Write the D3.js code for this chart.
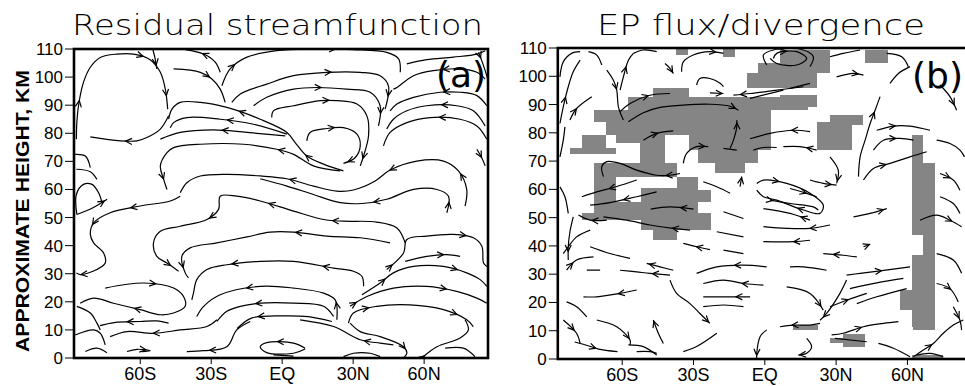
<!DOCTYPE html>
<html>
<head>
<meta charset="utf-8">
<script src="https://cdn.jsdelivr.net/npm/d3@7"></script>
</head>
<body style="margin:0;background:#fff">
<style>
    path.sl { fill: none; stroke: #000; stroke-width: 1.2px; }
    path.arr { fill: none; stroke: #000; stroke-width: 1.2px; }
    rect.frame { fill: none; stroke: #000; stroke-width: 2.6px; }
    rect.cell { fill: #858585; stroke: none; }
    .tick { font-family: "Liberation Sans", Arial, sans-serif; font-size: 17px; }
    .xtick { font-family: "Liberation Sans", Arial, sans-serif; font-size: 18px; }
    .title { font-family: "DejaVu Sans", sans-serif; font-weight: 200; font-size: 29px; }
    .plab { font-family: "DejaVu Sans", sans-serif; font-size: 36px; }
</style>
<script>

    var width = 965, height = 386;

    var yTicks = [0, 10, 20, 30, 40, 50, 60, 70, 80, 90, 100, 110];
    var xTicks = [-60, -30, 0, 30, 60];
    var xTickLabels = ["60S", "30S", "EQ", "30N", "60N"];
    var titles = ["Residual streamfunction", "EP flux/divergence"];
    var panelLabels = ["(a)", "(b)"];

    // (a) streamlines: [arrow positions (fraction of length), points [lat, km] in flow order]
    var psiLines = [
        [[0.6], [[-48,86.2],[-51.5,81.5],[-57.2,78.5],[-61.4,77.3],[-68.4,77.3],[-81.1,78.7]]],
        [[0.2, 0.68, 0.93], [[-87,77.9],[-86.8,83.8],[-86.1,89.8],[-84,98.1],[-81.1,103.5],[-76.9,107],[-69.9,108.2],[-62.8,108.2],[-55.8,106.2],[-51.5,101.7],[-49.4,95.7],[-48.4,88.6]]],
        [[0.8], [[-54.7,110],[-53.7,106.5],[-53,102.9]]],
        [[0.55], [[-45.9,102.9],[-34.6,101.7],[-29.7,99.3],[-26.2,95.7],[-24.1,91]]],
        [[0.6], [[-26.2,101.7],[-28.3,105.3],[-33.2,108.2],[-41,109.8]]],
        [[0.12, 0.62], [[-25.5,96.9],[-22,102.9],[-14.9,107.1],[-2.3,109.4],[13.2,110],[30.1,109.8],[44.2,108.8],[49.2,106.5],[49.9,101.7]]],
        [[0.55, 0.93], [[-21.3,91],[-17.7,94],[-6.5,97.5],[4.8,100.5],[18.9,101.7],[33,101.7],[41.4,100.5],[44.9,96.9],[43.5,88.6]]],
        [[0.45, 0.92], [[-12.1,89.8],[-6.5,92.8],[4.8,95.7],[14.7,96.3],[27.3,95.7],[37.2,94.6],[41.4,89.8],[40.7,82.6]]],
        [[0.4, 0.95], [[-4.4,85.6],[-3.7,88],[4.8,89.8],[16.1,91.6],[23.1,91.6],[31.6,90.4],[35.8,86.2],[36.5,79.1],[34.4,71.9],[33,68.4]]],
        [[0.35, 0.95], [[10.4,77.3],[11.8,80.3],[18.9,81.7],[25.9,82],[31.6,79.7],[33,75.5],[30.8,71.3],[25.9,69.3]]],
        [[0.2, 0.6], [[25.9,66.6],[17.5,69],[10.4,71.9],[5.5,76.7],[2,80.3],[-9.3,85],[-23.4,89.2],[-34.6,91],[-43.1,91],[-46.6,88.6],[-48,85]]],
        [[0.5], [[2,79.7],[-12.1,83.2],[-26.2,85],[-40.3,85.6],[-45.9,83.8],[-47.3,82]]],
        [[0.5], [[1.3,79.1],[-14.9,80.3],[-29,81.2],[-43.1,80.3],[-51.5,77.9]]],
        [[0.3, 0.95], [[24.5,66.6],[13.2,68.4],[4.8,72.5],[-2.3,74.3],[-16.3,76.1],[-34.6,76.1],[-45.9,74.9],[-48.7,73.1],[-51.5,68.4],[-50.1,63.6],[-48.7,60]]],
        [[0.1, 0.33, 0.65], [[77.3,54.1],[78,60],[74.5,66.6],[68.2,70.1],[56.9,70.1],[45.6,66.9],[39.3,63],[30.1,59.8],[23.1,59.4],[13.2,61.2],[2,63.8],[-9.3,64.8],[-23.4,65.4],[-34.6,64.8],[-40.3,62.4],[-43.1,58.8]]],
        [[0.3, 0.55, 0.97], [[-43.1,57.6],[-47.3,55.9],[-60,54.1],[-72.7,51.7],[-79.7,48.1],[-81.1,44],[-79.7,41],[-75.5,37.4],[-74.8,33.8],[-78.3,31.5],[-85.4,29.7],[-87,30.3]]],
        [[0.05, 0.45], [[69.6,51.7],[70.3,57.6],[65.4,60],[55.5,60],[44.2,56.5],[33.7,55],[24.5,55.3],[13.2,58.2],[2,61.2],[-9.3,63.8]]],
        [[0.25, 0.45, 0.68, 0.97], [[52,41],[48.5,46.3],[40,48.4],[25.9,48.7],[17.5,49.3],[4.8,52.3],[-9.3,55.9],[-19.2,57.6],[-26.2,57.6],[-26.9,52.9],[-31.8,49.3],[-43.1,46.9],[-51.5,45.1],[-54.4,41],[-53,36.2],[-48.7,33.8],[-43.8,30.9]]],
        [[0.4, 0.95], [[45.6,41],[33,42.8],[18.9,43.4],[4.8,44.8],[-5.1,44.8],[-14.9,43.1],[-27.6,41],[-38.9,39.2],[-42.4,36.2],[-41,30.3],[-39.6,28.5]]],
        [[0.25, 0.7], [[34.4,25.5],[33.7,29.1],[30.1,30.9],[21.7,32],[4.8,34.4],[-9.3,34.4],[-23.4,33.2],[-31.8,31.5],[-36.1,27.9],[-37.5,23.1],[-38.2,20.7]]],
        [[0.1, 0.65], [[23.1,13.6],[22.4,20.7],[17.5,23.1],[4.8,24.9],[-9.3,25.5],[-26.2,22.5],[-33.2,18.4],[-36.1,14.8]]],
        [[0.65], [[21.7,14.8],[17.5,18.4],[4.8,19.5],[-9.3,19.5],[-17.7,18.4],[-23.4,16.6],[-27.6,13]]],
        [[0.25, 0.72], [[-74.8,24.9],[-58.6,26.7],[-45.9,24.9],[-41.7,21.9],[-41,18.4],[-45.9,16],[-51.5,15.4],[-60,17.2],[-71.3,19.5],[-79.7,21.3],[-85.4,19.5]]],
        [[], [[-86.8,18.4],[-81.1,16],[-78.3,12.4],[-76.9,10]]],
        [[0.6], [[-48,12.4],[-53,13.2],[-60,13],[-71,12.6],[-77,11.5]]],
        [[0.75], [[21,13],[11,14.7],[1,15],[-13,14.2],[-19,10.5]]],
        [[0.05, 0.7], [[44.2,31.5],[51.3,37.4],[52.7,42.2],[61.1,43.4],[72.4,44],[80.8,42.8],[84.4,39.8],[85.1,33.8],[86.5,32.6]]],
        [[0.7], [[52,34.4],[61.1,36.2],[69.6,36.8],[75.2,36.2]]],
        [[0.2, 0.75], [[33.7,22.5],[41.4,26.7],[47,30.3],[55.5,32.6],[68.2,32.6],[78,30.3],[83.7,27.9],[86.5,25.5]]],
        [[0.05, 0.7], [[28.7,18.4],[35.8,21.9],[47,24.9],[61.1,25.5],[73.8,23.7],[82.3,21.3],[86.5,19.5]]],
        [[0.2, 0.85], [[28,12.4],[30.1,16],[40,18.4],[54.1,18.9],[68.2,17.2],[78,13.6],[80.8,11.2]]],
        [[0.45], [[85.8,99.3],[82.3,101.7],[75.2,102.9],[63.9,102.3],[55.5,100.5],[48.5,96.3],[47,95.7]]],
        [[0.45], [[86.5,89.8],[82.3,93.4],[75.2,94.6],[66.8,94.6],[55.5,92.8],[48.5,90.4],[45.6,88]]],
        [[0.45], [[85.8,82.6],[80.8,88],[73.8,89.8],[61.1,89.8],[52.7,88],[47,85],[44.2,81.5]]],
        [[0.45], [[86.5,77.9],[82.3,82.6],[75.2,85],[62.5,85.6],[52.7,83.8],[45.6,80.3],[42.8,75.5]]],
        [[], [[52.7,104.7],[61.1,106.2],[72.4,107.1],[82.3,108.2],[85.8,109.4]]],
        [[0.2], [[83,108.8],[85.1,104.1],[87,99]]],
        [[0.5], [[82.3,74.3],[84.5,71],[85.8,68.4]]],
        [[], [[-87.5,72.5],[-83.2,71.9],[-81.1,67.8]]],
        [[], [[-87,67.2],[-81.1,66.3],[-78.3,63.6]]],
        [[], [[-86.8,51.1],[-87,58.2],[-84,61.8],[-80.4,61.8],[-77.6,58.8],[-76.2,55.3]]],
        [[0.9], [[-86.8,51.1],[-80,53.5],[-74,56.5]]],
        [[], [[-87.5,8.2],[-79.7,10],[-76.9,8.8],[-74.8,4.7]]],
        [[], [[-83.2,2.3],[-78.3,3.5],[-74.1,1.9]]],
        [[0.6], [[-27.6,13.6],[-31.8,11.2],[-43.1,10],[-54.4,8.8],[-65.6,9.4],[-72.7,7.6]]],
        [[0.6], [[-65.6,2.3],[-61.4,3.1],[-55.8,2.6],[-59.3,2.3]]],
        [[0.7], [[-13.5,13],[-19.2,10],[-23.4,4],[-33.2,2.6],[-40.3,2.3]]],
        [[0.3], [[9.7,3.5],[4.8,5.3],[-6.5,5.5],[-9.3,4],[-6.5,1.9],[4.8,1.7],[9.7,3.2]]],
        [[], [[-3.7,1.1],[4.8,0.7]]],
        [[0.3], [[47,4.7],[41.4,5.3],[33,6.5],[21.7,11.2],[7.6,13.6]]],
        [[0.85], [[28.7,12.4],[33,9.4],[41.4,7.6],[51.3,4],[52.7,1.7],[51.3,0]]],
        [[], [[25.9,0.5],[30.1,1.7],[37.2,1.7],[41.4,0.5]]],
        [[0.05], [[59,0],[65.4,4],[75.2,7.1],[78.7,10],[77.3,13.6]]],
        [[], [[68.9,3.5],[76.6,3.5],[81.5,0.5]]]
    ];

    // (b) EP flux streamlines
    var epLines = [
        [[0.4], [[-86.2,83.3],[-84.8,89.2],[-82.7,96.3],[-80.6,101.6],[-77.7,105.7]]],
        [[], [[-86.2,99.8],[-84.8,105.1],[-81.3,108.1],[-77.7,108.7]]],
        [[], [[-74.2,108.7],[-70.7,107.5],[-68.6,104]]],
        [[0.4], [[-82,84.5],[-79.2,88.6],[-72.8,92.8]]],
        [[], [[-86.2,71.5],[-84.8,77.4],[-84.1,82.1]]],
        [[0.4], [[-66.5,102.2],[-63.7,98.6],[-62.3,95.1],[-61.6,89.2],[-59.5,84.5]]],
        [[0.6], [[-60.9,95.1],[-59.5,99.8],[-57.4,105.7],[-55.3,108.1]]],
        [[], [[-55.3,108.1],[-51.1,109.3],[-45.5,108.7]]],
        [[0.9], [[-42,104.5],[-39.9,102.8],[-38.5,101]]],
        [[0.85], [[-35,101.6],[-34.3,105.1],[-30.1,107.5],[-23.1,108.7],[-17.4,108.1]]],
        [[], [[-28.7,96.9],[-27.3,99.2],[-23.1,99.2],[-18.8,97.5],[-17.4,96.3]]],
        [[0.9], [[-23.1,94.1],[-17.4,93.9]]],
        [[0.9], [[16.2,96.3],[5,95.1],[-6.2,93.9],[-13.2,93.3]]],
        [[], [[-6.2,92.2],[7.8,95.1]]],
        [[], [[10.6,95.7],[19,97.5]]],
        [[0.2], [[3.6,106.3],[5,108.1],[13.4,108.7],[17.6,106.3],[13.4,104],[5,104.5],[2.2,106.3]]],
        [[], [[0.8,104],[-0.6,107.5],[3.6,109.3],[16.2,109.3],[20.4,106.9],[19,103.4]]],
        [[], [[27.4,106.9],[33,108.1],[40.1,109.3]]],
        [[0.8], [[30.2,99.8],[37.3,101],[41.5,100.4]]],
        [[], [[51.3,108.1],[57.6,106.9],[60.4,103.4]]],
        [[], [[61.1,103.4],[56.2,101],[52.7,97.5]]],
        [[0.8], [[73.7,96.9],[77.9,92.8],[80.7,88]]],
        [[0.8], [[39.4,64.5],[40.1,71.5],[42.2,77.4],[44.3,83.3],[46.4,88],[48.5,92.8]]],
        [[0.6], [[45.7,73.9],[49.9,77.4],[56.9,78],[62.5,77.4]]],
        [[0.35], [[47.1,80.9],[54.1,82.4],[61.1,82.4],[69.5,80.9]]],
        [[0.4], [[41.5,63.3],[45.7,67.4],[52.7,69.2],[61.1,71.5],[68.1,73.3]]],
        [[], [[72.3,77.4],[77.9,76.2],[82.1,73.9],[84,71.5]]],
        [[0.4], [[73.7,65.6],[79.3,63.3],[82.1,59.7]]],
        [[], [[73.7,57.4],[79.3,55],[82.1,51.5]]],
        [[0.75], [[65.3,49.1],[72.3,50.9],[77.9,49.1],[82.8,46.8]]],
        [[0.9], [[37.3,50.3],[44.3,51.5],[51.3,53.2]]],
        [[], [[72.3,37.3],[79.3,35],[82.8,30.3]]],
        [[0.5], [[72.3,26.7],[77.9,24.9],[81.4,20.2]]],
        [[0.5], [[79.3,18.5],[82.1,13.7],[82.8,10.2]]],
        [[0.6], [[-60.9,87.5],[-56.7,90.4],[-48.3,93.3],[-39.9,93.9]]],
        [[0.97], [[-57.4,83.9],[-51.1,87.1],[-44.1,89],[-34.3,89.8],[-23.1,90.1],[-14.6,89.4],[-11.1,88]]],
        [[0.5], [[-51.1,77.4],[-45.5,79.8],[-38.5,80.7]]],
        [[0.9], [[-14.6,74.5],[-13.2,77.4],[-11.8,82.1],[-11.8,84.5]]],
        [[0.9], [[-34.3,69.2],[-32.9,72.7],[-28.7,75.1],[-23.8,75.1]]],
        [[], [[-17.4,74.5],[-11.8,73.9]]],
        [[], [[-4.8,73.9],[-0.6,74.8],[5,74.8]]],
        [[0.3], [[19,80.4],[12,80.9],[2.2,79.8],[-6.2,77.9]]],
        [[0.3], [[21.8,73.9],[14.8,75.1],[7.8,75.1]]],
        [[0.9], [[27.4,71.5],[30.9,66.8],[30.2,62.1]]],
        [[0.15, 0.7], [[-3.4,62.1],[-0.6,63.3],[9.2,62.1],[19,58.6],[24.6,54.4],[23.2,51.5],[16.2,52.7],[5,56.2],[-0.6,57.4],[-3.4,59.7]]],
        [[0.05], [[2.2,56.2],[10.6,55],[20.4,53.8],[22.5,52.7]]],
        [[0.6], [[10.6,60.3],[17.6,58.6],[21.8,57.4]]],
        [[0.8], [[19,63.3],[24.6,62.1],[30.2,61.5]]],
        [[], [[-25.9,62.7],[-20.2,60.9],[-14.6,58.6]]],
        [[0.9], [[-10.4,61],[-9.7,64.5]]],
        [[0.15], [[-35.7,65.6],[-39.9,65],[-45.5,65],[-53.9,66.8],[-60.9,69.2],[-66.5,69.8],[-68.6,68],[-67.9,64.5]]],
        [[0.5], [[-53.9,63.3],[-62.3,61],[-70.7,59.1],[-77,57.4]]],
        [[0.5], [[-45.5,59.1],[-53.9,57.4],[-65.1,55.3],[-73.5,54.4]]],
        [[0.3], [[-30,53],[-40,53.8],[-48,53]]],
        [[0.5], [[-66.5,49.1],[-73.5,49.1],[-78.4,50.9]]],
        [[0.2], [[-31.5,45.6],[-38.5,46.2],[-48.3,47.4],[-58.1,49.1],[-67.9,50.3]]],
        [[], [[-17.4,52.1],[-9,49.7]]],
        [[0.2], [[19,49.1],[10.6,51.5],[-0.6,53.2]]],
        [[0.3], [[27.4,47.4],[19,46.2],[9.2,46.2],[-0.6,46.8]]],
        [[], [[-20.2,45],[-9,43.2]]],
        [[0.5], [[-23.1,38.7],[-28.7,39.7],[-34.3,40.9]]],
        [[], [[-17.4,38.5],[-9,37.3]]],
        [[0.35], [[19,42],[12,41.5],[-0.6,41.5]]],
        [[0.7], [[38.7,36.1],[33,36.7],[24.6,37.3]]],
        [[0.9], [[41.5,39.7],[44.3,40.6]]],
        [[0.55], [[34.4,29.7],[40.1,30.3],[48.5,31.2],[61.1,32.6]]],
        [[], [[35.8,24.9],[47.1,26.9],[58.3,28.5]]],
        [[], [[38.7,19.6],[47.1,22],[59.7,24.9]]],
        [[], [[-56.7,35.6],[-65.1,37.3],[-73.5,39.7]]],
        [[0.9], [[-38.5,31.4],[-44.1,32.6],[-49.7,33.8]]],
        [[0.45], [[0.8,32.6],[-9,33.2],[-20.2,32.6],[-28.7,30.3]]],
        [[], [[10.6,32.6],[16.2,32.6],[26,31.4]]],
        [[], [[-74.9,31.4],[-69.3,31.4]]],
        [[0.35], [[-39.9,29.7],[-48.3,30.3],[-53.9,30.8],[-60.9,31.4]]],
        [[0.35], [[-0.6,26.1],[-9,26.7],[-17.4,27.9],[-25.9,26.7]]],
        [[0.9], [[9.2,25.5],[19,23.2],[24.6,17.3]]],
        [[0.35], [[-53.9,24.4],[-60.9,23.2],[-70.7,22],[-76.3,22]]],
        [[0.3], [[-6.2,22],[-16,22],[-25.9,22]]],
        [[], [[-25.9,18.5],[-17.4,19.1],[-9,18.5]]],
        [[], [[-83.4,20.2],[-79.2,18.5],[-74.9,14.9]]],
        [[0.97], [[-39.9,27.9],[-37.1,23.2],[-31.5,19.6],[-27.3,16.1],[-23.1,12.6]]],
        [[0.9], [[34.4,27.9],[31.6,23.2],[26,16.1],[23.2,13.7]]],
        [[0.5], [[27.4,18.5],[34.4,20.8],[42.9,23.2]]],
        [[], [[-84.8,37.3],[-82.7,39.7],[-79.2,43.2],[-73.5,45.6]]],
        [[0.3], [[-83.4,31.4],[-79.2,35],[-72.1,36.1]]],
        [[], [[-86.2,60.9],[-84.1,57.4],[-82.7,51.5]]],
        [[0.8], [[-80.6,50.3],[-82,45],[-82.7,39.7],[-82.7,35]]],
        [[0.5], [[-84.8,13.8],[-79.2,9.1],[-77.7,5.5]]],
        [[0.5], [[-80,6],[-74,4.6],[-70,3.5],[-62,2.6]]],
        [[0.85], [[-70.7,13.8],[-62.3,11.4],[-56.7,6.7],[-56.7,5]]],
        [[], [[-57.4,5],[-51.1,4.4],[-45.5,1.4]]],
        [[], [[-53.9,2.6],[-48.3,2.6],[-45.5,2]]],
        [[0.95], [[-42.7,5.5],[-44.8,9.1],[-46.9,13.8]]],
        [[], [[-34.3,2.6],[-28.7,4.4],[-20.2,9.1]]],
        [[0.9], [[0.8,10.3],[-2,7.9],[-3.4,2],[-3.4,0.2]]],
        [[0.7], [[23.2,12.6],[19,12],[12,12],[6.4,11.4]]],
        [[0.95], [[17.6,7.3],[19.7,4.4],[17.6,2],[14.1,1.4]]],
        [[], [[29.5,7.3],[42.9,6.1]]],
        [[0.45], [[28.1,8.5],[33,9.1],[41.5,11.4],[49.9,12.6],[56.2,13.2]]],
        [[], [[47.8,5.5],[54.1,3.8],[61.1,0.8]]],
        [[0.35], [[62.5,0.8],[66.7,3.2],[70.9,5.5],[75.1,9.1],[79.3,12],[83.5,13.8]]],
        [[], [[63.9,1.4],[69.5,2],[75.1,0.8]]]
    ];

    // (b) shaded (convergence) cells: [lat0, lat1, km0, km1]
    var epShade = [
        [-37.2,-32.2,107.5,110], [-17.5,-12.5,106.8,110],
        [6.4,27.5,101,109.3], [-2.8,18.2,101.2,104.7], [-7.7,22,95.9,101.2],
        [42.2,52,104.7,109.3],
        [-47,-32,92.7,95.9], [-57.5,18.2,88,92.7], [6.4,22,89,93.4],
        [-72,2.7,83.8,88], [-67,2.7,79.2,83.8],
        [-77,-67,73.9,79.2], [-82,-62.5,72.6,74.6],
        [-62.5,-42,76.4,81], [-52.5,-42,67.9,76.4],
        [-32,2.7,73.9,81], [-28,-2.8,69.3,73.9], [-21,-8.3,65.8,69.3],
        [-72,-37,64.4,69.3],
        [-37,-28,59.8,64.4], [-32,-22.6,55.5,59.8],
        [-72,-62.5,51,65.8], [-52,-32,55.5,60.5],
        [-72,-28,51.6,55.5], [-77,-22.6,49.2,51.6],
        [-52,-22.6,45.6,49.2], [-47,-37,42,45.6],
        [27.5,41.4,82.8,86.3], [22,36.7,73.9,83.8],
        [62,66.7,69,79.2], [62,71.6,43.9,69.3], [66.7,71.6,36.8,43.9],
        [62,71.6,24.4,36.8], [57,71.6,17.3,24.4], [62,71.6,11.3,17.3], [66.7,71.6,10.3,11.3],
        [62.5,71.6,10.3,13.8], [12,22.5,10.3,12],
        [33,42.2,4.4,9], [27.4,37,5.5,7.3], [62,75,0,1.5]
    ];

    var svg = d3.select("body").append("svg")
        .attr("width", width)
        .attr("height", height);

    var panels = [
        {x: d3.scaleLinear().domain([-88, 87]).range([74, 488]),
         y: d3.scaleLinear().domain([0, 110]).range([358, 49]),
         lines: psiLines, shade: [], tx: 72, tw: 411, lx: 436, ly: 87, ylabel: true},
        {x: d3.scaleLinear().domain([-87.1, 87]).range([557.8, 971.6]),
         y: d3.scaleLinear().domain([0, 110]).range([359, 48]),
         lines: epLines, shade: epShade, tx: 597, tw: 328, lx: 912, ly: 88, ylabel: false}
    ];

    var line = d3.line().curve(d3.curveCatmullRom.alpha(0.5));

    panels.forEach(function (P, i) {
        var x = P.x, y = P.y;
        var x0 = x.range()[0], x1 = x.range()[1], y0 = y.range()[0], y1 = y.range()[1];
        var clipId = "clip" + i;
        svg.append("clipPath").attr("id", clipId)
            .append("rect").attr("x", x0).attr("y", y1).attr("width", x1 - x0).attr("height", y0 - y1);

        var g = svg.append("g").attr("clip-path", "url(#" + clipId + ")");

        g.selectAll("rect.cell").data(P.shade).enter().append("rect")
            .attr("class", "cell")
            .attr("shape-rendering", "crispEdges")
            .attr("x", function (d) { return x(d[0]); })
            .attr("y", function (d) { return y(d[3]); })
            .attr("width", function (d) { return x(d[1]) - x(d[0]); })
            .attr("height", function (d) { return y(d[2]) - y(d[3]); });

        line.x(function (d) { return x(d[0]); }).y(function (d) { return y(d[1]); });

        P.lines.forEach(function (L) {
            var p = g.append("path").attr("class", "sl").attr("d", line(L[1]));
            var node = p.node(), len = node.getTotalLength();
            L[0].forEach(function (f) {
                var s = Math.max(2, Math.min(len - 0.5, f * len));
                var a = node.getPointAtLength(s), b = node.getPointAtLength(s - 2);
                var ang = Math.atan2(a.y - b.y, a.x - b.x), h = 7, w = 0.45;
                g.append("path").attr("class", "arr")
                    .attr("d", "M" + (a.x - h * Math.cos(ang - w)) + "," + (a.y - h * Math.sin(ang - w)) +
                        "L" + a.x + "," + a.y +
                        "L" + (a.x - h * Math.cos(ang + w)) + "," + (a.y - h * Math.sin(ang + w)));
            });
        });

        svg.append("rect").attr("class", "frame")
            .attr("x", x0).attr("y", y1).attr("width", x1 - x0).attr("height", y0 - y1);

        // y axis
        yTicks.forEach(function (t) {
            svg.append("line").attr("x1", x0 - 9).attr("x2", x0).attr("y1", y(t)).attr("y2", y(t))
                .attr("stroke", "#000").attr("stroke-width", 1);
            svg.append("text").attr("class", "tick").attr("x", x0 - 11).attr("y", y(t) + 6)
                .attr("text-anchor", "end").text(t);
        });
        // x axis
        xTicks.forEach(function (t, k) {
            svg.append("line").attr("x1", x(t)).attr("x2", x(t)).attr("y1", y0).attr("y2", y0 + 6)
                .attr("stroke", "#000").attr("stroke-width", 1);
            svg.append("text").attr("class", "xtick").attr("x", x(t)).attr("y", y0 + 22)
                .attr("text-anchor", "middle").text(xTickLabels[k]);
        });

        svg.append("text").attr("class", "title").attr("x", P.tx).attr("y", 35)
            .attr("textLength", P.tw).attr("lengthAdjust", "spacingAndGlyphs").text(titles[i]);
        svg.append("text").attr("class", "plab").attr("x", P.lx).attr("y", P.ly).text(panelLabels[i]);

        if (P.ylabel) {
            svg.append("text")
                .attr("transform", "translate(29,211) rotate(-90)")
                .attr("text-anchor", "middle")
                .attr("textLength", 282).attr("lengthAdjust", "spacingAndGlyphs")
                .style("font-family", "Liberation Sans, Arial, sans-serif")
                .style("font-weight", "bold").style("font-size", "18px")
                .text("APPROXIMATE HEIGHT,  KM");
        }
    });

</script>
</body>
</html>
